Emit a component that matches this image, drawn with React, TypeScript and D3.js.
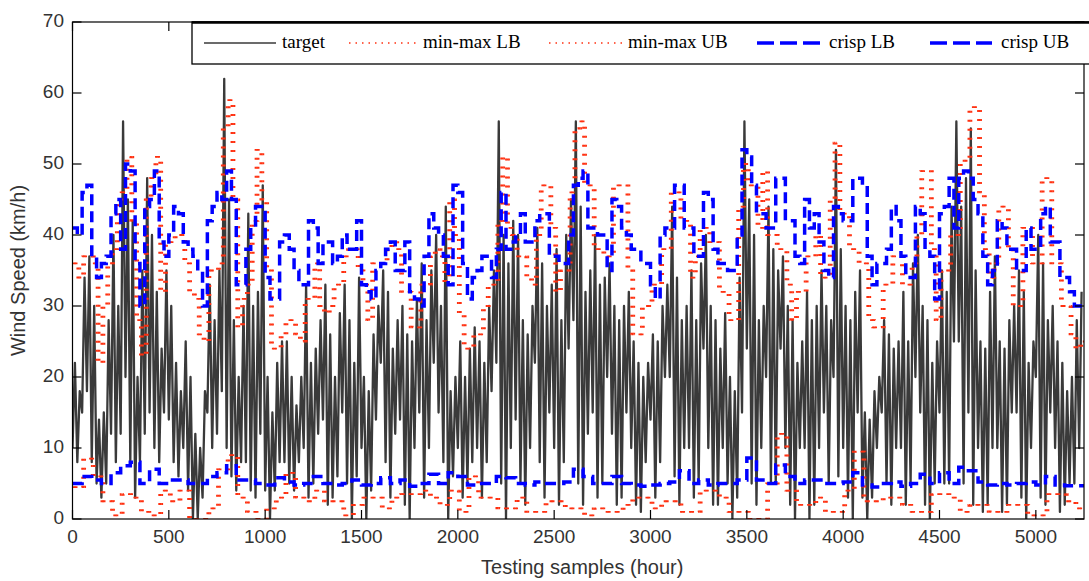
import React from "react";
import * as d3 from "d3";

// ---- data ----
const TARGET_STEP = 25; // samples per peak/trough pair
const UB_STEP = 25;
const LB_STEP = 50;
const X_MAX = 5250;

const xTicks = [0, 500, 1000, 1500, 2000, 2500, 3000, 3500, 4000, 4500, 5000];
const yTicks = [0, 10, 20, 30, 40, 50, 60, 70];

const targetPeaks = [
  22,18,34,37,30,14,15,28,40,30,56,45,42,20,35,48,40,32,24,35,
  30,22,18,25,20,12,10,18,33,28,35,62,45,28,20,30,43,30,32,47,
  20,15,22,25,25,20,16,20,33,22,24,28,33,26,20,29,33,28,22,34,
  20,18,26,30,35,32,24,28,30,26,25,31,36,28,35,40,30,44,18,20,
  25,20,24,27,25,22,30,35,56,40,36,42,40,28,26,30,41,36,30,33,
  38,28,40,45,56,44,32,35,40,33,34,36,30,28,30,32,25,22,20,22,
  26,25,30,33,44,34,28,30,35,28,36,40,30,28,24,29,20,18,34,56,
  45,40,28,30,44,38,35,37,30,28,22,25,32,28,30,35,30,28,52,38,
  30,28,32,35,15,14,18,20,28,26,24,25,32,25,36,40,30,28,22,25,
  35,32,44,56,44,48,55,35,25,24,32,37,25,24,28,30,35,32,22,25,
  40,36,28,30,25,22,18,20,28,32,
];
const targetTroughs = [
  10,8,15,18,8,5,3,5,12,8,12,20,8,3,8,12,15,10,8,15,
  14,8,6,10,4,0,0,3,15,10,12,18,10,6,4,8,8,4,3,12,
  4,0,4,8,8,5,4,8,10,3,5,12,14,2,3,6,15,5,0,6,
  10,0,4,14,22,8,3,12,14,2,0,10,15,3,10,22,15,8,0,6,
  10,3,5,8,10,3,8,18,22,5,0,10,14,5,2,10,22,8,3,15,
  10,2,8,24,28,5,2,12,15,3,5,20,12,2,3,15,10,2,1,8,
  14,3,8,20,20,6,2,10,10,3,5,24,10,2,2,10,5,0,3,15,
  24,5,2,10,20,5,5,24,10,2,0,10,10,0,2,10,15,5,20,6,
  10,3,0,15,3,0,3,10,15,5,2,10,10,2,5,20,15,2,0,5,
  15,5,5,25,25,5,15,2,10,1,2,10,10,1,2,15,15,3,0,10,
  20,3,2,15,10,1,2,5,5,10,
];

const minmaxUB = [
  36,34,37,37,36,22,30,36,38,45,46,51,42,28,23,45,48,51,32,39,
  39,40,40,36,32,31,26,25,35,35,36,55,59,45,27,31,33,42,52,45,
  35,24,24,26,28,28,26,25,31,31,36,30,29,30,33,33,37,38,38,35,
  33,28,36,36,36,38,39,38,32,32,27,27,33,33,37,38,37,33,45,40,
  29,24,24,26,26,30,33,33,42,51,41,40,37,37,34,33,40,47,47,41,
  32,35,35,46,55,56,47,47,38,38,37,37,47,47,47,35,26,26,30,30,
  33,33,38,38,46,46,42,42,34,37,41,41,39,39,32,32,28,28,44,50,
  47,47,41,49,40,40,38,38,33,28,32,32,37,37,40,34,34,45,53,43,
  43,38,38,36,36,28,27,27,33,33,37,37,33,33,36,40,49,49,38,28,
  35,35,40,40,50,51,58,58,46,38,34,36,44,44,38,30,30,41,41,36,
  36,48,48,36,36,30,30,26,24,25,
];

const crispUB = [
  41,40,46,47,37,34,36,37,43,45,38,50,49,36,30,44,45,49,39,37,
  40,44,43,39,38,37,35,30,42,44,46,45,49,45,33,33,38,41,44,44,
  34,31,31,39,40,38,35,33,33,42,41,36,39,39,36,37,40,38,38,42,
  33,32,31,35,36,38,39,35,35,39,32,31,30,37,43,41,40,37,33,47,
  46,36,31,34,35,37,37,34,38,46,38,39,40,43,39,39,42,43,43,37,
  37,36,36,40,47,48,49,41,41,40,40,35,45,44,41,40,38,38,36,36,
  33,31,40,41,41,47,47,41,41,37,37,46,45,38,36,36,35,35,40,52,
  51,47,43,43,41,41,48,48,42,42,37,36,45,41,43,39,35,34,44,43,
  42,42,48,48,47,37,33,36,36,38,44,42,37,34,34,44,43,38,37,31,
  43,44,48,41,48,49,48,45,43,37,33,35,42,41,38,38,35,35,41,38,
  38,43,44,39,39,34,34,32,30,30,
];

const minmaxLB = [
  4.5,8.5,6,2.5,0.5,3.5,3,1,0.5,4,
  2.5,4,0,0,1.5,7,9,3,1,0,
  1.5,3,6.5,3,2.5,4,2.5,2.5,0.5,2,
  3,3,1.5,3,3.5,3.5,4,3,2,4,
  1,6,3,3,1.5,1.5,3,1,1,2.5,
  2.5,1.5,1.5,0.5,1.5,1,1,2,3,3,
  1.5,2.5,2.5,1,1,4,4,3,1,1,
  0,0,5,12,4,2,2,3,1,1,
  4,9.5,2.5,2.5,3,3,2,1,1,3.5,
  3.5,3,1,2,2,1,1,2,2,0.5,
  0.5,3.5,3.5,2.5,1.5,
];

const crispLB = [
  5,6,5.5,5,6.5,7.5,8,5,7,5,
  5.5,5.5,5,5,6,6.5,7.5,5.5,5.5,5,
  4.8,5.8,5.2,4.8,5,6,5,4.8,5,5.5,
  4.8,5,5.8,5,5.5,4.6,5,6.3,5,6.5,
  6,4.8,5,5,6,5.8,5,4.8,5.2,5,
  5,5.2,7,6,5,5,6,5,4.8,4.6,
  4.8,5,5.2,6.8,5,5.5,4.8,5,5,5.5,
  8.6,5.5,5,7.6,6,5,5.5,5.5,5,5,
  5.2,6.5,4.8,4.5,5,5.2,4.6,5,6.3,5,
  6.5,5,7.3,6.8,5.2,4.8,5,4.8,5,5.2,
  4.8,6,4.8,4.7,4.7,
];

const legendItems = [
  { label: "target", kind: "target", x0: 204, x1: 276, tx: 282 },
  { label: "min-max LB", kind: "red", x0: 349, x1: 419, tx: 423 },
  { label: "min-max UB", kind: "red", x0: 549, x1: 622, tx: 628 },
  { label: "crisp LB", kind: "blue", x0: 757, x1: 821, tx: 829 },
  { label: "crisp UB", kind: "blue", x0: 930, x1: 992, tx: 1001 },
];

const RED = "#ff3010";
const BLUE = "#0000ff";
const BLACK = "#3a3a3a";

export default function App() {
  const W = 1089, H = 581;
  const left = 72.5, right = 1084, top = 22, bottom = 519;
  const x = d3.scaleLinear().domain([0, X_MAX]).range([left, right]);
  const y = d3.scaleLinear().domain([0, 70]).range([bottom, top]);

  const lin = d3.line<[number, number]>().x(d => x(d[0])).y(d => y(d[1]));
  const stp = d3.line<[number, number]>().x(d => x(d[0])).y(d => y(d[1])).curve(d3.curveStepAfter);

  const targetPts: [number, number][] = [];
  targetPeaks.forEach((p, i) => {
    targetPts.push([i * TARGET_STEP, targetTroughs[i]]);
    targetPts.push([i * TARGET_STEP + TARGET_STEP / 2, p]);
  });
  const toSteps = (arr: number[], step: number): [number, number][] => {
    const pts: [number, number][] = arr.map((v, i) => [i * step, v]);
    pts.push([X_MAX, arr[arr.length - 1]]);
    return pts;
  };

  const sans = "'Liberation Sans', Arial, sans-serif";
  const serif = "'Liberation Serif', 'Times New Roman', serif";

  const redPaths = [stp(toSteps(minmaxLB, LB_STEP)) || "", stp(toSteps(minmaxUB, UB_STEP)) || ""];
  // Dotted red rendered as short horizontal dashes (matching the raster look)
  const dashShifts = [0, 1.5, 3];

  return (
    <div style={{ position: "absolute", left: 0, top: 0 }}>
      <svg width={W} height={H} style={{ display: "block", background: "#fff" }}>
        <defs>
          <clipPath id="plotClip">
            <rect x={left} y={top} width={right - left} height={bottom - top} />
          </clipPath>
        </defs>
        <g clipPath="url(#plotClip)">
          <path d={lin(targetPts) || ""} fill="none" stroke={BLACK} strokeWidth={2.3} strokeLinejoin="round" />
          {redPaths.map((d, i) => (
            <g key={"r" + i}>
              {dashShifts.map(dx => (
                <path key={dx} d={d} transform={`translate(${dx},0)`} fill="none" stroke={RED} strokeWidth={1.8} strokeDasharray="2,7" />
              ))}
            </g>
          ))}
          <path d={stp(toSteps(crispLB, LB_STEP)) || ""} fill="none" stroke={BLUE} strokeWidth={3.5} strokeDasharray="11,6" />
          <path d={stp(toSteps(crispUB, UB_STEP)) || ""} fill="none" stroke={BLUE} strokeWidth={3.5} strokeDasharray="11,6" />
        </g>
        {/* frame */}
        <rect x={left} y={top} width={right - left} height={bottom - top} fill="none" stroke="#000" strokeWidth={1.2} />
        {/* ticks */}
        {xTicks.map(t => (
          <g key={"x" + t}>
            <line x1={x(t)} x2={x(t)} y1={bottom} y2={bottom - 9} stroke="#000" strokeWidth={1.2} />
            <line x1={x(t)} x2={x(t)} y1={top} y2={top + 9} stroke="#000" strokeWidth={1.2} />
            <text x={x(t)} y={538} textAnchor="middle" dominantBaseline="middle" fontFamily={sans} fontSize={19} fill="#333">{t}</text>
          </g>
        ))}
        {yTicks.map(t => (
          <g key={"y" + t}>
            <line x1={left} x2={left + 9} y1={y(t)} y2={y(t)} stroke="#000" strokeWidth={1.2} />
            <line x1={right} x2={right - 9} y1={y(t)} y2={y(t)} stroke="#000" strokeWidth={1.2} />
            <text x={64} y={y(t)} textAnchor="end" dominantBaseline="middle" fontFamily={sans} fontSize={19} fill="#333">{t}</text>
          </g>
        ))}
        <text x={(left + right) / 2 + 4} y={569} textAnchor="middle" dominantBaseline="middle" fontFamily={sans} fontSize={20} fill="#333">Testing samples (hour)</text>
        <text transform={`translate(20,${(top + bottom) / 2})rotate(-90)`} textAnchor="middle" dominantBaseline="middle" fontFamily={sans} fontSize={20} fill="#333">Wind Speed (km/h)</text>
        {/* legend */}
        <rect x={192} y={22} width={910} height={42} fill="#fff" stroke="#000" strokeWidth={1.3} />
        <line x1={192} x2={1089} y1={22.5} y2={22.5} stroke="#000" strokeWidth={2.5} />
        {legendItems.map(it => (
          <g key={it.label}>
            <line x1={it.x0} x2={it.x1} y1={43} y2={43}
              stroke={it.kind === "target" ? BLACK : it.kind === "red" ? RED : BLUE}
              strokeWidth={it.kind === "blue" ? 3.5 : it.kind === "red" ? 1.6 : 1.3}
              strokeDasharray={it.kind === "blue" ? "17,6" : it.kind === "red" ? "1.5,5" : undefined} />
            <text x={it.tx} y={44} dominantBaseline="middle" fontFamily={serif} fontSize={19} fill="#000">{it.label}</text>
          </g>
        ))}
      </svg>
    </div>
  );
}
